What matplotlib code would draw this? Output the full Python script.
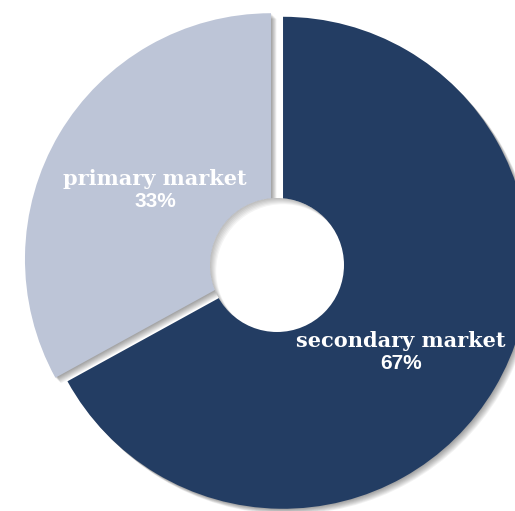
import numpy as np
import matplotlib.pyplot as plt
import matplotlib.patheffects as pe
from matplotlib.patches import Circle

labels = ['secondary market', 'primary market']
values = [67, 33]
colors = ['#233d63', '#bdc5d7']

W, H = 515, 511
fig = plt.figure(figsize=(W / 100, H / 100), dpi=100)
ax = fig.add_axes([0, 0, 1, 1])

cx, cy = 277, 250   # centre of the donut
R = 246             # outer radius
r_hole = 67

# explode is an absolute offset, in data units
wedges, _ = ax.pie(values, colors=colors, startangle=90, counterclock=False,
                   radius=R, center=(cx, cy), explode=[7, 7])

# halve the vertical part of the explode
for w in wedges:
    x0, y0 = w.center
    w.set_center((x0, cy + 0.5 * (y0 - cy)))

# soft drop shadow down and to the right
soft = [pe.SimplePatchShadow(offset=(o, -o), shadow_rgbFace='black', alpha=0.05)
        for o in (0.5, 1.0, 1.5, 2.0, 2.5, 3.0, 3.5, 4.0)]
for w in wedges:
    w.set_path_effects(soft + [pe.Normal()])

# hole with an inner shadow on its upper-left rim
hc = (cx, cy - 4)
hole = Circle(hc, r_hole, fc='white', ec='none', zorder=3)
ax.add_patch(hole)
for d in (1, 2, 3, 4, 5, 6):
    ring = Circle((hc[0] + d, hc[1] - d), r_hole + 6, fc='none', ec='black',
                  lw=9, alpha=0.045, zorder=4)
    ring.set_clip_path(hole)
    ax.add_patch(ring)

# labels
pos = {'secondary market': (401, 164), 'primary market': (155, 326)}
for name, v in zip(labels, values):
    x, y = pos[name]
    ax.text(x, y, name, ha='center', va='baseline', color='white',
            fontsize=15, fontweight='bold', family='DejaVu Serif', zorder=5)
    ax.text(x, y - 22, f'{v}%', ha='center', va='baseline', color='white',
            fontsize=15, fontweight='bold', family='Liberation Sans', zorder=5)

ax.set_xlim(0, W)
ax.set_ylim(0, H)
ax.set_aspect('equal')
ax.axis('off')

fig.savefig('out.png', dpi=100)
